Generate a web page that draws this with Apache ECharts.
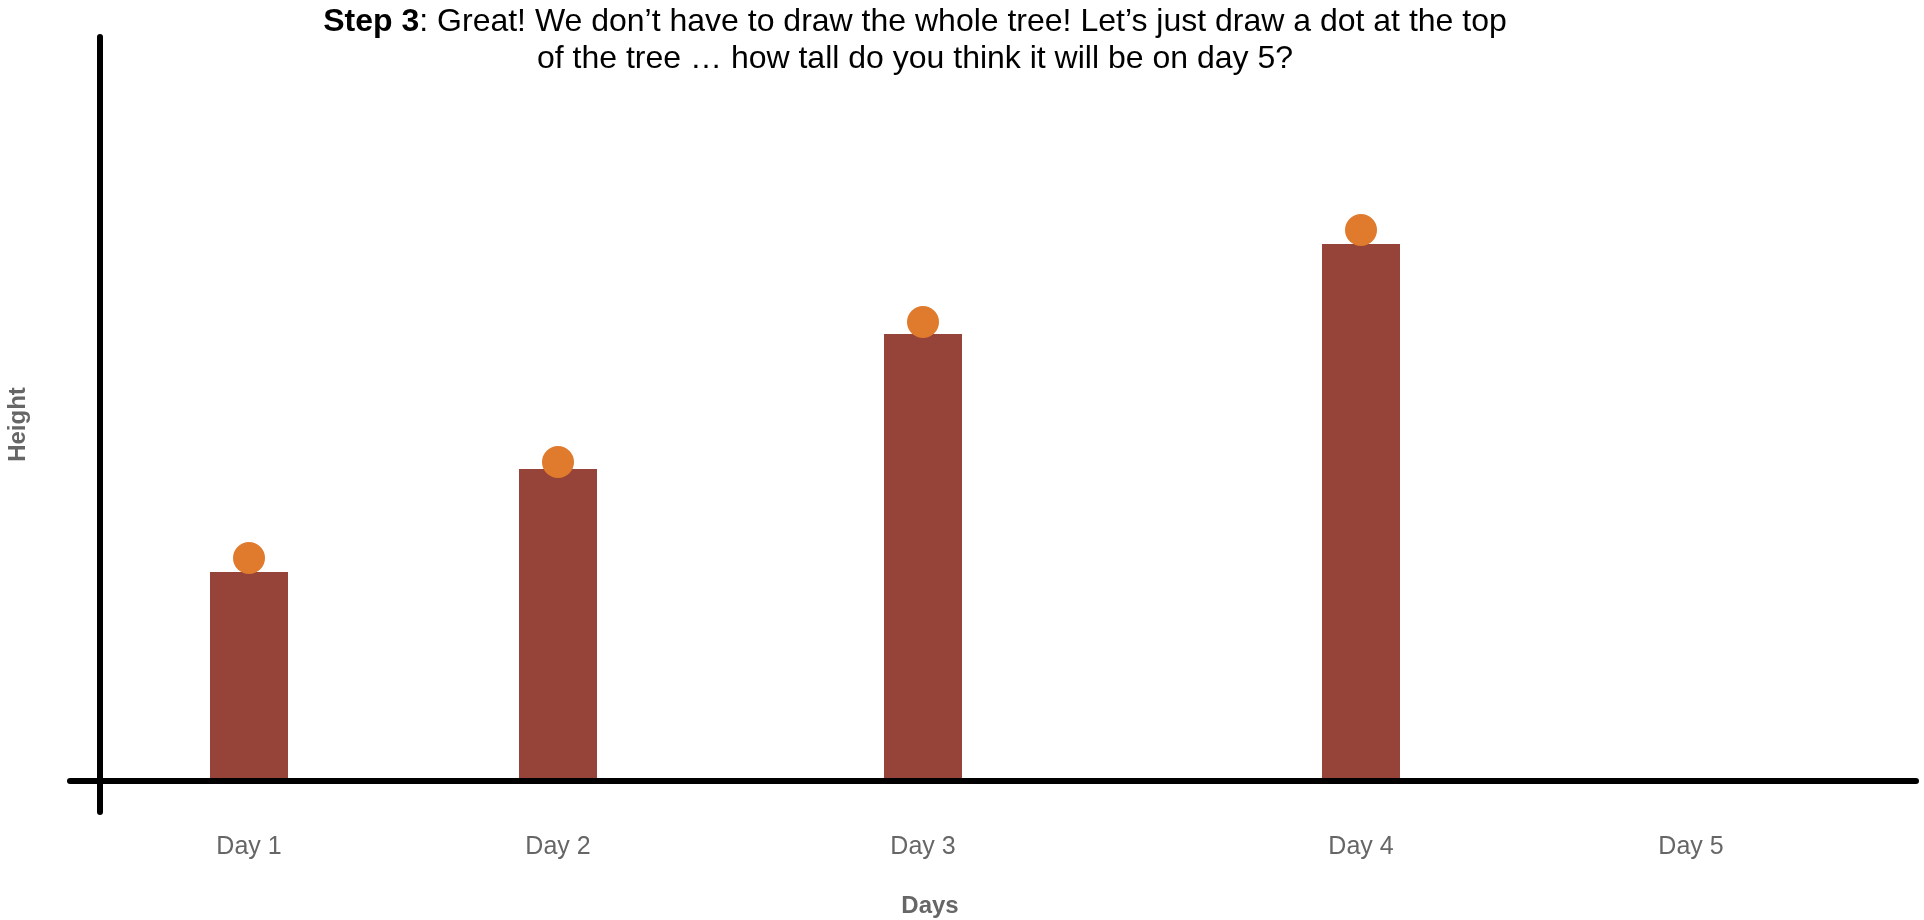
<!DOCTYPE html>
<html>
<head>
<meta charset="utf-8">
<script src="https://cdn.jsdelivr.net/npm/echarts@6/dist/echarts.min.js"></script>
<style>
  html, body { margin: 0; padding: 0; background: #fff; }
  #chart { width: 1924px; height: 920px; }
</style>
</head>
<body>
<div id="chart"></div>
<script>
// days and where they sit along the axis (axis units, y-axis at 0)
var days = ['Day 1', 'Day 2', 'Day 3', 'Day 4', 'Day 5'];
var dayX = [149, 458, 823, 1261, 1591];
// tree heights (bars) and the dot on top of each tree
var treeHeight = [209, 312, 447, 537];
var dotHeight = [223, 319, 459, 551];

var chart = echarts.init(document.getElementById('chart'));

var barData = [];
var dotData = [];
for (var i = 0; i < treeHeight.length; i++) {
	barData.push([dayX[i], treeHeight[i]]);
	dotData.push([dayX[i], dotHeight[i]]);
}

var option = {
	animation: false,
	textStyle: { fontFamily: 'Liberation Sans, Arial, sans-serif' },
	title: [{
		text: '{b|Step 3}: Great! We don\u2019t have to draw the whole tree! Let\u2019s just draw a dot at the top\nof the tree \u2026 how tall do you think it will be on day 5?',
		left: 915,
		top: 4,
		padding: 0,
		textAlign: 'center',
		textStyle: {
			color: '#000',
			fontSize: 32,
			fontWeight: 'normal',
			lineHeight: 37,
			rich: {
				b: { fontWeight: 'bold', fontSize: 32, color: '#000', lineHeight: 37 }
			}
		}
	}, {
		text: 'Days',
		left: 930,
		top: 894,
		padding: 0,
		textAlign: 'center',
		textStyle: { color: '#666', fontSize: 24, fontWeight: 'bold', lineHeight: 24 }
	}],
	grid: { left: 70, right: 8, top: 37, bottom: 108, outerBoundsMode: 'none', containLabel: false },
	xAxis: {
		type: 'value',
		min: -30,
		max: 1816,
		z: 5,
		axisLine: { onZero: true, lineStyle: { color: '#000', width: 6 } },
		axisTick: { show: false },
		splitLine: { show: false },
		axisLabel: {
			customValues: dayX,
			margin: 23,
			fontSize: 25,
			color: '#666',
			formatter: function (v) {
				var k = dayX.indexOf(v);
				return k >= 0 ? days[k] : '';
			}
		}
	},
	yAxis: {
		type: 'value',
		min: -31,
		max: 744,
		z: 5,
		name: 'Height',
		nameLocation: 'middle',
		nameGap: 40,
		nameTextStyle: { color: '#666', fontSize: 24, fontWeight: 'bold' },
		axisLine: { onZero: true, lineStyle: { color: '#000', width: 6 } },
		axisTick: { show: false },
		axisLabel: { show: false },
		splitLine: { show: false }
	},
	series: [{
		type: 'bar',
		data: barData,
		barWidth: 78,
		itemStyle: { color: '#96443a' }
	}, {
		type: 'scatter',
		data: dotData,
		symbolSize: 32,
		itemStyle: { color: '#e07a2c', opacity: 1 }
	}]
};
chart.setOption(option);
</script>
</body>
</html>
